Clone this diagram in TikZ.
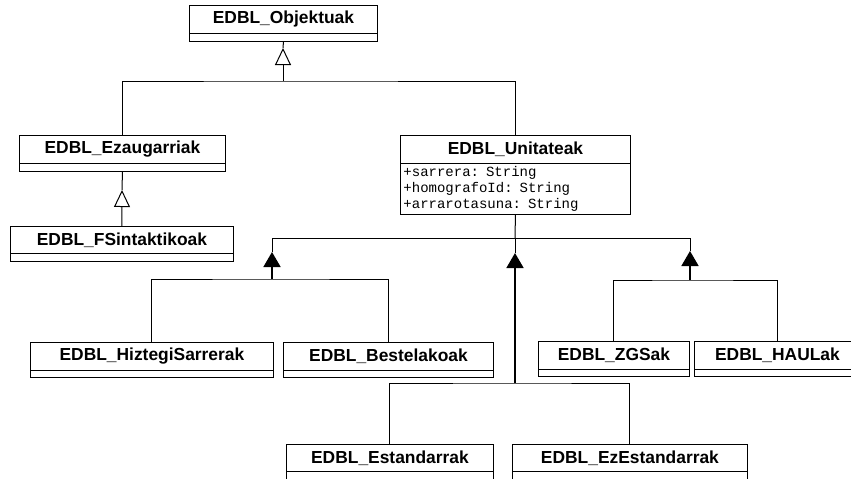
\documentclass[tikz,border=0pt]{standalone}
\usepackage{fontspec}
\setmainfont{Liberation Sans}
\newfontfamily\attrfont{Liberation Mono}
\usetikzlibrary{arrows.meta,calc}
\tikzset{
  hdr/.style={draw, line width=0.9pt, fill=white, inner sep=0pt, anchor=north west,
    font=\bfseries\fontsize{17.4}{20}\selectfont},
  bdy/.style={draw, line width=0.9pt, fill=white, inner sep=0pt, anchor=north west},
  attrs/.style={draw, line width=0.9pt, fill=white, inner xsep=3pt, inner ysep=3pt, anchor=north west,
    align=left, text width=224pt, font=\attrfont\fontsize{14}{16}\selectfont},
  conn/.style={line width=1pt},
  heavy/.style={line width=1.6pt},
  gen/.style={-{Triangle[length=17pt,width=16pt,fill=white]}},
  inh/.style={-{Triangle[length=15pt,width=17pt]}}
}
\begin{document}
\begin{tikzpicture}[x=1pt,y=-1pt]
\useasboundingbox (0,0) rectangle (851,479);

% classes
\node[hdr, minimum width=188pt, minimum height=28pt] (obj) at (189,5) {EDBL\_Objektuak};
\node[bdy, minimum width=188pt, minimum height=8pt] (objb) at (189,33) {};

\node[hdr, minimum width=206pt, minimum height=28pt] (ezg) at (19,135) {EDBL\_Ezaugarriak};
\node[bdy, minimum width=206pt, minimum height=8pt] (ezgb) at (19,163) {};

\node[hdr, minimum width=223pt, minimum height=27pt] (fsin) at (10,226) {EDBL\_FSintaktikoak};
\node[bdy, minimum width=223pt, minimum height=8pt] (fsinb) at (10,253) {};

\node[hdr, minimum width=230pt, minimum height=28pt] (uni) at (400,135) {EDBL\_Unitateak};
\node[attrs, minimum width=230pt, minimum height=51pt] (unib) at (400,163) {+sarrera: String\\+homografoId: String\\+arrarotasuna: String};

\node[hdr, minimum width=243pt, minimum height=28pt] (hiz) at (30,342) {EDBL\_HiztegiSarrerak};
\node[bdy, minimum width=243pt, minimum height=7pt] (hizb) at (30,370) {};

\node[hdr, minimum width=210pt, minimum height=28pt] (bes) at (283,342) {EDBL\_Bestelakoak};
\node[bdy, minimum width=210pt, minimum height=7pt] (besb) at (283,370) {};

\node[hdr, minimum width=151pt, minimum height=28pt] (zgs) at (538,341) {EDBL\_ZGSak};
\node[bdy, minimum width=151pt, minimum height=7pt] (zgsb) at (538,369) {};

\node[hdr, minimum width=166pt, minimum height=28pt] (hau) at (694,341) {EDBL\_HAULak};
\node[bdy, minimum width=166pt, minimum height=7pt] (haub) at (694,369) {};

\node[hdr, minimum width=207pt, minimum height=27pt] (est) at (286,444) {EDBL\_Estandarrak};
\node[bdy, minimum width=207pt, minimum height=12pt] (estb) at (286,471) {};

\node[hdr, minimum width=235pt, minimum height=27pt] (eze) at (512,444) {EDBL\_EzEstandarrak};
\node[bdy, minimum width=235pt, minimum height=12pt] (ezeb) at (512,471) {};

% junction coordinates
\coordinate (ap1) at (283,48);
\coordinate (j1) at (283,81);
\coordinate (ap2) at (122,190);
\coordinate (j2) at (515,238);
\coordinate (a1) at (272,238);
\coordinate (a3) at (690,238);
\coordinate (t1) at (272,252);
\coordinate (c1) at (272,279);
\coordinate (t2) at (515,253);
\coordinate (c2) at (515,383);
\coordinate (t3) at (690,251);
\coordinate (c3) at (690,280);

% generalisation: Objektuak
\draw[conn] (objb.south) -- (ap1);
\draw[conn, gen] (j1) -- (ap1);
\draw[conn] (ezg.north) |- (j1) -| (uni.north);

% Ezaugarriak -> FSintaktikoak
\draw[conn] (ezgb.south) -- (ap2);
\draw[conn, gen] (fsin.north) -- (ap2);

% Unitateak subtree
\draw[conn] (unib.south) -- (j2);
\draw[conn] (a1) -- (a3);

\draw[conn] (a1) -- (t1);
\draw[heavy, inh] (c1) -- (t1);
\draw[conn] (hiz.north) |- (c1) -| (bes.north);

\draw[conn] (j2) -- (t2);
\draw[heavy, inh] (c2) -- (t2);
\draw[conn] (est.north) |- (c2) -| (eze.north);

\draw[conn] (a3) -- (t3);
\draw[heavy, inh] (c3) -- (t3);
\draw[conn] (zgs.north) |- (c3) -| (hau.north);
\end{tikzpicture}
\end{document}
